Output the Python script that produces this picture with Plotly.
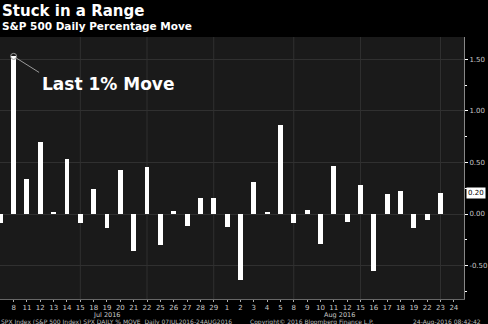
import plotly.graph_objects as go

# Trading days 7 Jul 2016 .. 24 Aug 2016
day_labels = ["7", "8", "11", "12", "13", "14", "15", "18", "19", "20", "21", "22",
              "25", "26", "27", "28", "29",
              "1", "2", "3", "4", "5", "8", "9", "10", "11", "12", "15", "16", "17",
              "18", "19", "22", "23", "24"]
pct_move = [-0.09, 1.53, 0.34, 0.70, 0.01, 0.53, -0.09, 0.24, -0.14, 0.43, -0.36, 0.46,
            -0.30, 0.03, -0.12, 0.16, 0.16,
            -0.13, -0.64, 0.31, 0.02, 0.86, -0.09, 0.04, -0.29, 0.47, -0.08, 0.28, -0.55,
            0.19, 0.22, -0.14, -0.06, 0.20, None]
y_ticks = [-0.5, 0.0, 0.5, 1.0, 1.5]
y_ticktext = ["-0.50", "0.00", "0.50", "1.00", "1.50"]
grid_days = [6, 11, 16, 22, 27, 33]   # indices of vertical grid lines
highlight = 1                          # 8 Jul, last 1% move
last_idx = 33                          # last value shown on axis

idx = list(range(len(day_labels)))

fig = go.Figure()
fig.add_trace(go.Bar(x=idx, y=pct_move, width=0.37, marker=dict(color="white", line=dict(width=0)),
                     showlegend=False))
fig.add_trace(go.Scatter(x=[highlight], y=[pct_move[highlight]], mode="markers",
                         marker=dict(symbol="circle-open", size=6, color="#9a9a9a",
                                     line=dict(width=1, color="#9a9a9a")),
                         showlegend=False))

for g in grid_days:
    fig.add_shape(type="line", xref="x", yref="paper", x0=g, x1=g, y0=0, y1=1,
                  line=dict(color="#303030", width=1), layer="below")

tick_font = dict(family="DejaVu Sans", size=7, color="#c8c8c8")
fig.update_layout(
    width=488, height=324,
    margin=dict(l=0, r=20, t=37, b=25),
    paper_bgcolor="black", plot_bgcolor="#1a1a1a",
    bargap=0,
    xaxis=dict(range=[-0.02, 34.76], tickvals=idx[1:], ticktext=day_labels[1:],
               showgrid=False, zeroline=False, showline=True, linecolor="#666666",
               ticks="outside", ticklen=2, tickcolor="#aaaaaa", tickfont=tick_font,
               ticklabelstandoff=0, fixedrange=True),
    yaxis=dict(side="right", range=[-0.825, 1.718], tickvals=y_ticks, ticktext=y_ticktext,
               showgrid=True, gridcolor="#303030", gridwidth=1, zeroline=False,
               showline=True, linecolor="#888888", ticks="outside", ticklen=3,
               tickcolor="white", tickfont=tick_font,
               minor=dict(tickvals=[-0.75, -0.25, 0.25, 0.75, 1.25], ticks="outside",
                          ticklen=2, tickcolor="white", showgrid=False)),
    font=dict(family="DejaVu Sans", color="white"),
)

ann = []
ann.append(dict(xref="paper", yref="paper", x=0, y=(299 - 11) / 262, xanchor="left", yanchor="middle",
                text="<b>Stuck in a Range</b>", showarrow=False,
                font=dict(family="DejaVu Sans", size=15, color="white")))
ann.append(dict(xref="paper", yref="paper", x=0, y=(299 - 26) / 262, xanchor="left", yanchor="middle",
                text="<b>S&P 500 Daily Percentage Move</b>", showarrow=False,
                font=dict(family="DejaVu Sans", size=10.5, color="white")))
ann.append(dict(x=highlight, y=pct_move[highlight], xref="x", yref="y", text="",
                showarrow=True, arrowhead=0, arrowwidth=1, arrowcolor="#9a9a9a",
                ax=27, ay=17, standoff=3))
ann.append(dict(x=highlight, y=pct_move[highlight], xref="x", yref="y", xanchor="left",
                yanchor="middle", xshift=26, yshift=-28, text="<b>Last 1% Move</b>",
                showarrow=False, font=dict(family="DejaVu Sans", size=17, color="white")))
ann.append(dict(xref="paper", yref="y", x=1, xanchor="left", xshift=2, y=pct_move[last_idx],
                yanchor="middle", text=f"{pct_move[last_idx]:.2f}", showarrow=False,
                bgcolor="white", borderpad=1,
                font=dict(family="DejaVu Sans", size=7, color="black")))
month_font = dict(family="DejaVu Sans", size=6.5, color="#c8c8c8")
ann.append(dict(xref="x", yref="paper", x=8, y=(299 - 315) / 262, xanchor="center", yanchor="middle",
                text="Jul 2016", showarrow=False, font=month_font, borderpad=0))
ann.append(dict(xref="x", yref="paper", x=25.4, y=(299 - 315) / 262, xanchor="center", yanchor="middle",
                text="Aug 2016", showarrow=False, font=month_font, borderpad=0))
foot_font = dict(family="DejaVu Sans", size=6, color="#bbbbbb")
fy = (299 - 321.5) / 262
ann.append(dict(xref="paper", yref="paper", x=0, y=fy, xanchor="left", yanchor="middle",
                text="SPX Index (S&P 500 Index) SPX DAILY % MOVE  Daily 07JUL2016-24AUG2016",
                showarrow=False, font=foot_font, borderpad=0))
ann.append(dict(xref="paper", yref="paper", x=315 / 468, y=fy, xanchor="center", yanchor="middle",
                text="Copyright© 2016 Bloomberg Finance L.P.", showarrow=False, font=foot_font, borderpad=0))
ann.append(dict(xref="paper", yref="paper", x=486 / 468, y=fy, xanchor="right", yanchor="middle",
                text="24-Aug-2016 08:42:42", showarrow=False, font=foot_font, borderpad=0))
fig.update_layout(annotations=ann)

fig.write_html("out.html")
